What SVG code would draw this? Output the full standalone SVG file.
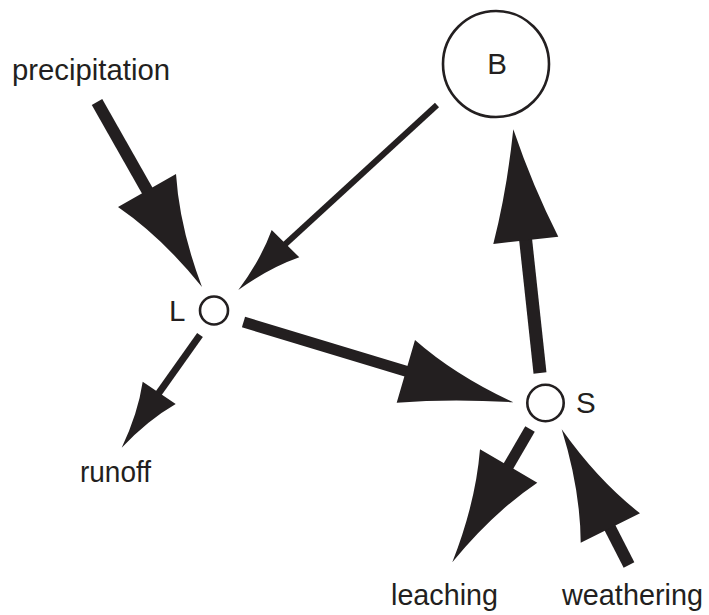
<svg xmlns="http://www.w3.org/2000/svg" width="709" height="615" viewBox="0 0 709 615">
<style>
.lbl{font-family:"Liberation Sans",Arial,sans-serif;font-size:29.5px;fill:#231f20}
.node{fill:none;stroke:#231f20;stroke-width:2.6}
.shaft{stroke:#231f20;fill:none;stroke-linecap:butt}
.head{fill:#231f20;stroke:none}
</style>
<rect width="709" height="615" fill="#fff"/>
<g id="node-B">
<circle class="node" cx="496" cy="64" r="53"/>
<text class="lbl" x="497" y="74" text-anchor="middle">B</text>
</g>
<g id="node-L">
<circle class="node" cx="214" cy="310.5" r="14"/>
<text class="lbl" x="169" y="321">L</text>
</g>
<g id="node-S">
<circle class="node" cx="545.5" cy="403" r="18.2"/>
<text class="lbl" x="576" y="413">S</text>
</g>
<g id="label-precipitation"><text class="lbl" x="12" y="80" textLength="158" lengthAdjust="spacingAndGlyphs">precipitation</text></g>
<g id="label-runoff"><text class="lbl" x="80" y="482" textLength="71" lengthAdjust="spacingAndGlyphs">runoff</text></g>
<g id="label-leaching"><text class="lbl" x="391" y="605" textLength="107" lengthAdjust="spacingAndGlyphs">leaching</text></g>
<g id="label-weathering"><text class="lbl" x="562" y="605" textLength="141" lengthAdjust="spacingAndGlyphs">weathering</text></g>
<g id="connectors">
<!-- precipitation -> L -->
<line class="shaft" stroke-width="12" x1="97" y1="102" x2="152" y2="199"/>
<path class="head" d="M118,207 Q162.1,237.3 202,287 Q179.5,227.4 176,174 Z"/>
<!-- B -> L -->
<line class="shaft" stroke-width="6" x1="437" y1="105" x2="280" y2="249"/>
<path class="head" d="M271.7,230 Q260.9,259.6 238.3,290 Q269.2,267.9 299.3,257.3 Z"/>
<!-- L -> S -->
<line class="shaft" stroke-width="11" x1="243.5" y1="322" x2="412" y2="373"/>
<path class="head" d="M415,340 Q455.2,375.4 513.3,402.3 Q452.3,398.3 396.7,402.7 Z"/>
<!-- S -> B -->
<line class="shaft" stroke-width="13" x1="540" y1="373" x2="525" y2="234"/>
<path class="head" d="M493.3,244 Q507,190 513.3,129.3 Q533,187.1 558.3,236.7 Z"/>
<!-- S -> leaching -->
<line class="shaft" stroke-width="11" x1="530" y1="429" x2="505" y2="472"/>
<path class="head" d="M480,449.3 Q475.7,502.7 452.3,562.3 Q492.8,512.7 537.3,482.7 Z"/>
<!-- weathering -> S -->
<line class="shaft" stroke-width="12" x1="629" y1="565" x2="607" y2="522"/>
<path class="head" d="M580.7,542.7 Q580.4,489.6 561.7,429.3 Q598.2,480.8 640,513.3 Z"/>
<!-- L -> runoff -->
<line class="shaft" stroke-width="7" x1="200" y1="335" x2="156" y2="397"/>
<path class="head" d="M142.7,381.7 Q138,413.3 121.7,447.7 Q147.9,420 175.7,404 Z"/>
</g>
</svg>
